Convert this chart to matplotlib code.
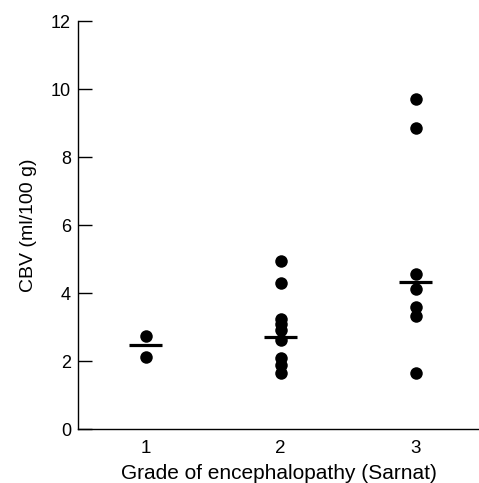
import matplotlib.pyplot as plt

# CBV values, grouped by Sarnat grade
grade1 = [2.74, 2.13]
grade2 = [4.94, 4.29, 3.24, 3.08, 2.91, 2.62, 2.10, 1.87, 1.64]
grade3 = [9.71, 8.86, 4.57, 4.11, 3.59, 3.32, 1.64]
grades = [1, 2, 3]
group_lines = [2.47, 2.72, 4.31]
yticks = [0, 2, 4, 6, 8, 10, 12]

plt.rcParams['font.family'] = ['Liberation Sans', 'DejaVu Sans']

fig = plt.figure(figsize=(4.79, 4.83), dpi=100)
ax = fig.add_axes([78 / 479, 54 / 483, 1 - 78 / 479, 408 / 483])

for g, vals in zip(grades, [grade1, grade2, grade3]):
    ax.plot([g] * len(vals), vals, 'o', color='black', markersize=9,
            markeredgewidth=0, clip_on=False)

for g, m in zip(grades, group_lines):
    ax.plot([g - 0.12, g + 0.12], [m, m], color='black', linewidth=2.3,
            solid_capstyle='butt')

ax.set_xlim(0.5, 3.47)
ax.set_ylim(0, 12)
ax.set_xticks(grades)
ax.set_yticks(yticks)
ax.spines['top'].set_visible(False)
ax.spines['right'].set_visible(False)
ax.spines['left'].set_linewidth(1.0)
ax.spines['bottom'].set_linewidth(1.0)
ax.tick_params(axis='y', direction='in', length=10, width=1.0, labelsize=13, pad=5)
ax.tick_params(axis='x', length=0, labelsize=13.5, pad=8)

ax.set_xlabel('Grade of encephalopathy (Sarnat)', fontsize=15, labelpad=5)
ax.set_ylabel('CBV (ml/100 g)', fontsize=14, labelpad=10)

fig.savefig('out.png', dpi=100)
